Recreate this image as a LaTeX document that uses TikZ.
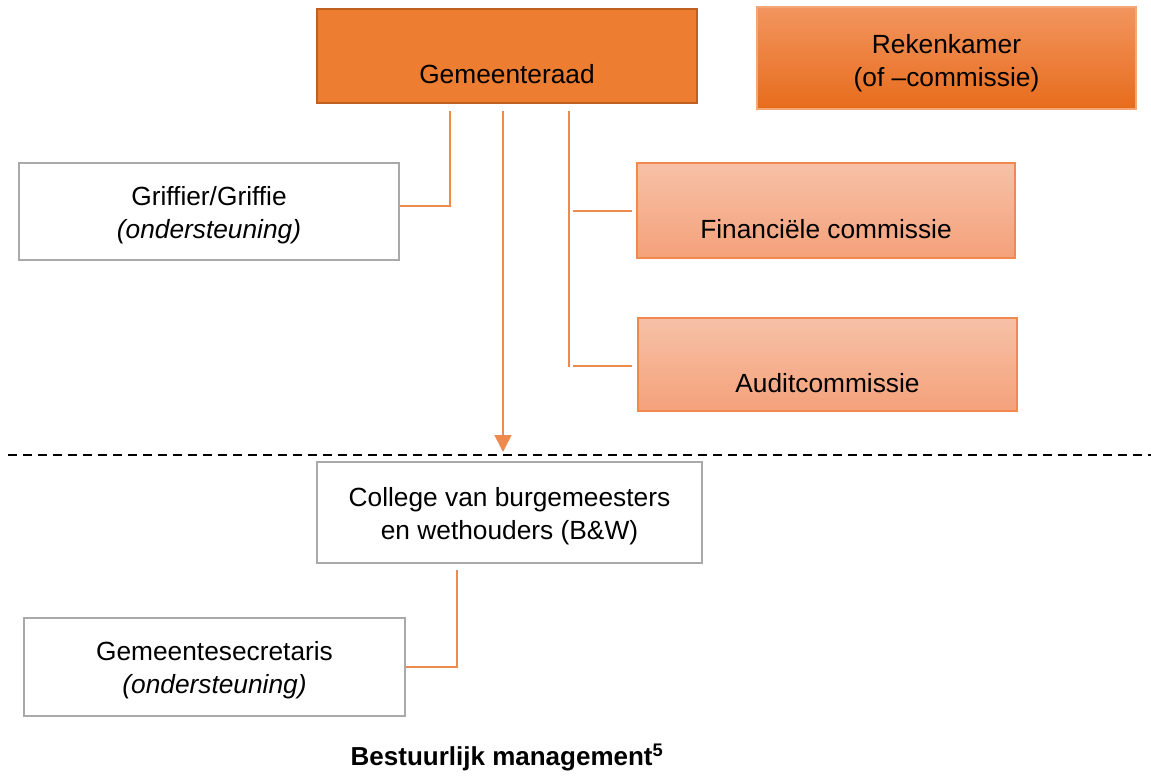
\documentclass[tikz,border=0pt]{standalone}
\usepackage{fontspec}
\setmainfont{Liberation Sans}
\usetikzlibrary{arrows.meta}
\definecolor{orgfill}{HTML}{ED7D31}
\definecolor{orgdraw}{HTML}{BF5F22}
\definecolor{rektop}{HTML}{F2955F}
\definecolor{rekbot}{HTML}{E76C1C}
\definecolor{rekdraw}{HTML}{F5A676}
\definecolor{comtop}{HTML}{F7C1A7}
\definecolor{combot}{HTML}{F4A17A}
\definecolor{comdraw}{HTML}{F0884F}
\definecolor{grayline}{HTML}{A9A9A9}
\definecolor{conn}{HTML}{EE8A4E}
\tikzset{
  box/.style={rectangle, inner sep=0pt, align=center, font=\fontsize{26.3}{33}\selectfont},
  plainbox/.style={box, draw=grayline, line width=2.6pt, fill=white, text height=59pt},
  conline/.style={draw=conn, line width=1.6pt},
}
\begin{document}
\begin{tikzpicture}[x=1pt,y=-1pt]
\useasboundingbox (0,0) rectangle (1151,776);
% boxes
\node[box, draw=orgdraw, line width=2.5pt, fill=orgfill, minimum width=380pt, minimum height=94pt] (ger) at (507,56) {\strut\\Gemeenteraad};
\node[box, draw=rekdraw, line width=1.2pt, top color=rektop, bottom color=rekbot, minimum width=379pt, minimum height=102pt, text height=63pt] (rek) at (946.5,58) {Rekenkamer\\(of --commissie)};
\node[plainbox, minimum width=380pt, minimum height=97pt] (grif) at (209,211.5) {Griffier/Griffie\\\textit{(ondersteuning)}};
\node[box, draw=comdraw, line width=1.5pt, top color=comtop, bottom color=combot, minimum width=378pt, minimum height=95pt] (fin) at (826,210.5) {\strut\\Financiële commissie};
\node[box, draw=comdraw, line width=1.5pt, top color=comtop, bottom color=combot, minimum width=379pt, minimum height=93pt] (aud) at (827.5,364.5) {\strut\\Auditcommissie};
\node[plainbox, minimum width=385pt, minimum height=101pt] (col) at (509.5,512.5) {College van burgemeesters\\en wethouders (B\&W)};
\node[plainbox, minimum width=381pt, minimum height=98pt] (sec) at (214.5,667) {Gemeentesecretaris\\\textit{(ondersteuning)}};
\node[font=\fontsize{26}{30}\selectfont\bfseries] (cap) at (507,757) {Bestuurlijk management\textsuperscript{5}};
% connector points
\coordinate (g1) at (450,111);
\coordinate (g2) at (450,206);
\coordinate (a1) at (503,111);
\coordinate (a2) at (503,452);
\coordinate (c1) at (569,111);
\coordinate (c2) at (569,367);
\coordinate (f1) at (573,211);
\coordinate (f2) at (632,211);
\coordinate (q1) at (573,366);
\coordinate (q2) at (632,366);
\coordinate (s1) at (457,570);
\coordinate (s2) at (457,667);
% connectors
\draw[conline] (g1) -- (g2) -- (g2 -| grif.east);
\draw[conline] (c1) -- (c2);
\draw[conline] (f1) -- (f2);
\draw[conline] (q1) -- (q2);
\draw[conline, -{Triangle[length=17pt,width=17pt]}, color=conn] (a1) -- (a2);
\draw[conline] (s1) -- (s2) -- (s2 -| sec.east);
% dashed separator
\coordinate (d1) at (8,455);
\coordinate (d2) at (1151,455);
\draw[black, line width=2pt, dash pattern=on 9pt off 6pt] (d1) -- (d2);
\end{tikzpicture}
\end{document}
